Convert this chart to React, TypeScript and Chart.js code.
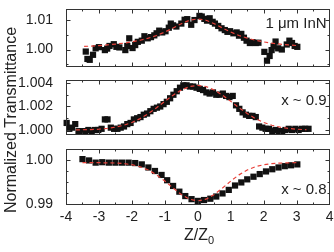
import React, { useEffect, useRef } from "react";
import { Chart, registerables } from "chart.js";

Chart.register(...registerables);

const W = 334;
const H = 252;
const FONT = '"Liberation Sans", Arial, Helvetica, sans-serif';
const INK = "#222";
const FIT_RED = "#e8413a";

// Shared Z/Z0 axis
const zTicks = [-4, -3, -2, -1, 0, 1, 2, 3, 4];

// Panel 1: 1 μm InN film
const inNZ = [
  -3.4, -3.35, -3.28, -3.18, -3.1, -3.0, -2.82, -2.75, -2.68, -2.55, -2.47, -2.38, -2.2, -2.14, -2.08,
  -1.98, -1.9, -1.82, -1.7, -1.62, -1.52, -1.42, -1.32, -1.25, -1.17, -1.08, -0.98, -0.88, -0.82, -0.75,
  -0.65, -0.5, -0.4, -0.32, -0.2, -0.1, 0.05, 0.12, 0.2, 0.28, 0.36, 0.45, 0.52, 0.62, 0.72, 0.82, 0.9,
  0.98, 1.08, 1.18, 1.25, 1.32, 1.4, 1.48, 1.58, 1.66, 1.76, 1.84, 2.02, 2.1, 2.18, 2.24, 2.3, 2.36, 2.44,
  2.55, 2.7, 2.78, 2.86, 2.94, 3.02,
];
const inNT = [
  0.9993, 0.9968, 0.9965, 0.9982, 1.0004, 1.0008, 0.9998, 1.0003, 1.0012, 1.0018, 1.0009, 1.0007, 0.9998,
  1.0012, 1.0038, 1.0005, 1.0015, 1.0026, 1.003, 1.0045, 1.0038, 1.0042, 1.0048, 1.0055, 1.0064, 1.0058,
  1.0062, 1.0074, 1.0088, 1.0082, 1.0078, 1.0088, 1.0101, 1.0103, 1.0084, 1.01, 1.0114, 1.0112, 1.0104,
  1.0098, 1.0106, 1.0094, 1.0088, 1.008, 1.0072, 1.0066, 1.006, 1.0062, 1.0055, 1.0058, 1.0047, 1.0053,
  1.004, 1.003, 1.0022, 1.0025, 1.0022, 1.0023, 0.9992, 0.9962, 0.9978, 0.9998, 1.0011, 1.0027, 1.0004,
  1.0, 1.0017, 1.003, 1.0022, 1.0012, 1.0009,
];
const inNFitZ = [
  -3.45, -3.25, -3, -2.75, -2.5, -2.25, -2, -1.75, -1.5, -1.25, -1, -0.75, -0.5, -0.25, 0, 0.25, 0.5,
  0.75, 1, 1.25, 1.5, 1.75, 2, 2.25, 2.5, 2.75, 3.05,
];
const inNFitT = [
  1.00104, 1.00116, 1.00133, 1.00155, 1.00182, 1.00215, 1.00258, 1.00314, 1.00385, 1.00477, 1.00592,
  1.0073, 1.00875, 1.00993, 1.0104, 1.00993, 1.00875, 1.0073, 1.00592, 1.00477, 1.00385, 1.00314,
  1.00258, 1.00215, 1.00182, 1.00155, 1.00129,
];
const inNTicks = [1.0, 1.01];
const inNMinor = [0.995, 1.005];

// Panel 2: x ~ 0.9
const x09Z = [
  -3.98, -3.9, -3.82, -3.72, -3.62, -3.52, -3.42, -3.32, -3.22, -3.12, -3.02, -2.92, -2.82, -2.74, -2.64,
  -2.54, -2.44, -2.34, -2.24, -2.14, -2.04, -1.94, -1.84, -1.74, -1.64, -1.54, -1.44, -1.34, -1.24, -1.14,
  -1.04, -0.94, -0.84, -0.74, -0.64, -0.54, -0.44, -0.34, -0.24, -0.14, -0.04, 0.06, 0.16, 0.26, 0.36,
  0.46, 0.56, 0.66, 0.76, 0.86, 0.96, 1.06, 1.16, 1.26, 1.36, 1.46, 1.56, 1.66, 1.76, 1.86, 1.96, 2.06,
  2.16, 2.26, 2.36, 2.46, 2.56, 2.66, 2.76, 2.86, 2.96, 3.06, 3.16, 3.26, 3.36,
];
const x09T = [
  1.0006, 1.0001, 1.0002, 1.0005, 0.9999, 0.9999, 0.9999, 1.0, 0.9999, 1.0, 1.0, 1.0001, 1.0009, 1.0009,
  1.0002, 1.0001, 1.0001, 1.0002, 1.0003, 1.0005, 1.0006, 1.0009, 1.001, 1.0011, 1.0013, 1.0014, 1.0016,
  1.0018, 1.0019, 1.002, 1.0022, 1.0024, 1.0027, 1.003, 1.0033, 1.0036, 1.0038, 1.0038, 1.0037, 1.0037,
  1.0036, 1.0035, 1.0034, 1.0032, 1.0031, 1.0032, 1.003, 1.003, 1.0031, 1.0029, 1.0028, 1.0029, 1.0021,
  1.0018, 1.0015, 1.0013, 1.0012, 1.0012, 1.0011, 1.0003, 1.0002, 1.0001, 1.0001, 0.9999, 1.0, 0.9999,
  0.9999, 1.0, 1.0001, 1.0, 1.0001, 1.0, 1.0001, 1.0001, 1.0001,
];
const x09FitZ = [
  -3.7, -3.5, -3.25, -3, -2.75, -2.5, -2.25, -2, -1.75, -1.5, -1.25, -1, -0.75, -0.5, -0.25, 0, 0.25, 0.5,
  0.75, 1, 1.25, 1.5, 1.75, 2, 2.25, 2.5, 2.75, 3, 3.3,
];
const x09FitT = [
  1.00001, 1.00002, 1.00003, 1.00007, 1.00013, 1.00024, 1.0004, 1.00064, 1.00097, 1.0014, 1.0019,
  1.00244, 1.00296, 1.0034, 1.0037, 1.0038, 1.0037, 1.0034, 1.00296, 1.00244, 1.0019, 1.0014, 1.00097,
  1.00064, 1.0004, 1.00024, 1.00013, 1.00007, 1.00002,
];
const x09Ticks = [1.0, 1.002, 1.004];
const x09Minor = [1.001, 1.003];

// Panel 3: x ~ 0.8
const x08Z = [
  -3.5, -3.3, -3.1, -2.9, -2.7, -2.5, -2.3, -2.1, -1.9, -1.7, -1.5, -1.3, -1.1, -0.93, -0.75, -0.56,
  -0.38, -0.19, 0, 0.19, 0.38, 0.56, 0.75, 0.94, 1.13, 1.32, 1.5, 1.69, 1.88, 2.07, 2.26, 2.45, 2.64,
  2.83, 3.02,
];
const x08T = [
  1.0002, 0.9999, 0.9994, 0.9995, 0.9994, 0.9994, 0.9994, 0.9994, 0.9993, 0.999, 0.9983, 0.9975, 0.9966,
  0.9954, 0.9941, 0.9928, 0.9918, 0.9911, 0.9907, 0.9909, 0.9912, 0.9917, 0.9924, 0.9932, 0.9942,
  0.9949, 0.9956, 0.9962, 0.9968, 0.9974, 0.9979, 0.9983, 0.9986, 0.9988, 0.999,
];
const x08FitZ = [
  -3.5, -3, -2.5, -2.25, -2, -1.75, -1.5, -1.25, -1, -0.75, -0.5, -0.25, 0, 0.25, 0.5, 0.75, 1, 1.25,
  1.5, 1.75, 2, 2.25, 2.5, 3,
];
const x08FitT = [
  0.9994, 0.99939, 0.99931, 0.99918, 0.99893, 0.99847, 0.99772, 0.99662, 0.99521, 0.99363, 0.99215,
  0.99109, 0.9907, 0.99109, 0.99215, 0.99363, 0.99521, 0.99662, 0.99772, 0.99847, 0.99893, 0.99918,
  0.99931, 0.99939,
];
const x08Ticks = [0.99, 1.0];
const x08Minor = [0.9925, 0.995, 0.9975];

type Panel = {
  z: number[];
  t: number[];
  fitZ: number[];
  fitT: number[];
  yMin: number;
  yMax: number;
  yTicks: number[];
  yMinor: number[];
  decimals: number;
  top: number;
  bottom: number;
  label: string;
  labelY: number;
  showX: boolean;
};

const PANELS: Panel[] = [
  {
    z: inNZ, t: inNT, fitZ: inNFitZ, fitT: inNFitT,
    yMin: 0.99406, yMax: 1.01375, yTicks: inNTicks, yMinor: inNMinor, decimals: 2,
    top: 9, bottom: 67, label: "1 μm InN", labelY: 24, showX: false,
  },
  {
    z: x09Z, t: x09T, fitZ: x09FitZ, fitT: x09FitT,
    yMin: 0.999574, yMax: 1.004255, yTicks: x09Ticks, yMinor: x09Minor, decimals: 3,
    top: 80, bottom: 135, label: "x ~ 0.9", labelY: 101, showX: false,
  },
  {
    z: x08Z, t: x08T, fitZ: x08FitZ, fitT: x08FitT,
    yMin: 0.98977, yMax: 1.0025, yTicks: x08Ticks, yMinor: x08Minor, decimals: 2,
    top: 149, bottom: 205, label: "x ~ 0.8", labelY: 190, showX: true,
  },
];

const PLOT_LEFT = 66;
const PLOT_RIGHT = 332;

function framePlugin(p: Panel) {
  return {
    id: "frameTicks",
    afterDatasetsDraw(chart: any) {
      const { ctx, chartArea: a, scales } = chart;
      const xs = scales.x;
      const ys = scales.y;
      ctx.save();
      ctx.strokeStyle = "#333";
      ctx.lineWidth = 1;
      const l = Math.round(a.left) + 0.5;
      const r = Math.round(a.right) - 0.5;
      const t = Math.round(a.top) + 0.5;
      const b = Math.round(a.bottom) - 0.5;
      ctx.strokeRect(l, t, r - l, b - t);

      ctx.beginPath();
      for (let k = -8; k <= 8; k++) {
        const z = k / 2;
        if (z <= -4 || z >= 4) continue;
        const px = Math.round(xs.getPixelForValue(z)) + 0.5;
        const len = k % 2 === 0 ? 4 : 2;
        ctx.moveTo(px, t);
        ctx.lineTo(px, t + len);
        ctx.moveTo(px, b);
        ctx.lineTo(px, b - len);
      }
      const yMarks = [
        ...p.yTicks.map((v) => [v, 4]),
        ...p.yMinor.map((v) => [v, 2]),
      ];
      for (const [v, len] of yMarks) {
        const py = Math.round(ys.getPixelForValue(v)) + 0.5;
        if (py <= t || py >= b) continue;
        ctx.moveTo(l, py);
        ctx.lineTo(l + len, py);
        ctx.moveTo(r, py);
        ctx.lineTo(r - len, py);
      }
      ctx.stroke();

      ctx.fillStyle = INK;
      ctx.font = `15px ${FONT}`;
      ctx.textAlign = "right";
      ctx.textBaseline = "middle";
      ctx.fillText(p.label, a.right - 3, p.labelY);

      if (p.showX) {
        // x-axis title Z/Z0 with subscript
        ctx.textAlign = "left";
        ctx.textBaseline = "alphabetic";
        ctx.font = `16px ${FONT}`;
        const main = "Z/Z";
        const w1 = ctx.measureText(main).width;
        ctx.font = `11px ${FONT}`;
        const w2 = ctx.measureText("0").width;
        const x0 = (PLOT_LEFT + PLOT_RIGHT) / 2 - (w1 + w2) / 2;
        ctx.font = `16px ${FONT}`;
        ctx.fillText(main, x0, 240);
        ctx.font = `11px ${FONT}`;
        ctx.fillText("0", x0 + w1, 244);

        // shared y-axis title
        ctx.save();
        ctx.translate(12, 120);
        ctx.rotate(-Math.PI / 2);
        ctx.textAlign = "center";
        ctx.textBaseline = "middle";
        ctx.font = `16px ${FONT}`;
        ctx.fillText("Normalized Transmittance", 0, 0);
        ctx.restore();
      }
      ctx.restore();
    },
  };
}

function makeChart(canvas: HTMLCanvasElement, p: Panel) {
  const tickFont = { family: FONT, size: 14 };
  return new Chart(canvas, {
    type: "scatter",
    data: {
      datasets: [
        {
          data: p.fitZ.map((x, i) => ({ x, y: p.fitT[i] })),
          showLine: true,
          pointRadius: 0,
          borderColor: FIT_RED,
          borderWidth: 1.2,
          borderDash: [4, 3],
          fill: false,
          clip: false,
        },
        {
          data: p.z.map((x, i) => ({ x, y: p.t[i] })),
          pointStyle: "rect",
          pointRadius: 4.4,
          backgroundColor: "#111",
          borderColor: "#111",
          borderWidth: 0,
          clip: false,
        },
      ],
    } as any,
    options: {
      responsive: false,
      animation: false,
      devicePixelRatio: 1,
      events: [],
      layout: {
        padding: { left: 0, right: W - PLOT_RIGHT, top: p.top, bottom: p.showX ? 0 : H - p.bottom },
      },
      plugins: { legend: { display: false }, tooltip: { enabled: false } },
      scales: {
        x: {
          type: "linear",
          min: -4,
          max: 4,
          display: p.showX,
          grid: { display: false },
          border: { display: false },
          afterBuildTicks: (s: any) => {
            s.ticks = zTicks.map((v) => ({ value: v }));
          },
          afterFit: (s: any) => {
            if (p.showX) s.height = H - p.bottom;
            s.paddingLeft = 0;
            s.paddingRight = 0;
          },
          ticks: {
            font: tickFont,
            color: INK,
            padding: -4,
            maxRotation: 0,
            autoSkip: false,
            callback: (v: any) => String(v),
          },
        },
        y: {
          type: "linear",
          min: p.yMin,
          max: p.yMax,
          grid: { display: false },
          border: { display: false },
          afterBuildTicks: (s: any) => {
            s.ticks = p.yTicks.map((v) => ({ value: v }));
          },
          afterFit: (s: any) => {
            s.width = PLOT_LEFT;
            s.paddingTop = 0;
            s.paddingBottom = 0;
          },
          ticks: {
            font: tickFont,
            color: INK,
            padding: 5,
            autoSkip: false,
            callback: (v: any) => Number(v).toFixed(p.decimals),
          },
        },
      },
    } as any,
    plugins: [framePlugin(p)],
  });
}

export default function App() {
  const refs = useRef<(HTMLCanvasElement | null)[]>([]);

  useEffect(() => {
    const charts = PANELS.map((p, i) => makeChart(refs.current[i] as HTMLCanvasElement, p));
    return () => charts.forEach((c) => c.destroy());
  }, []);

  return (
    <div style={{ position: "fixed", left: 0, top: 0, width: W, height: H, background: "#fff" }}>
      {PANELS.map((_, i) => (
        <canvas
          key={i}
          ref={(el) => {
            refs.current[i] = el;
          }}
          width={W}
          height={H}
          style={{ position: "absolute", left: 0, top: 0, width: W, height: H }}
        />
      ))}
    </div>
  );
}
